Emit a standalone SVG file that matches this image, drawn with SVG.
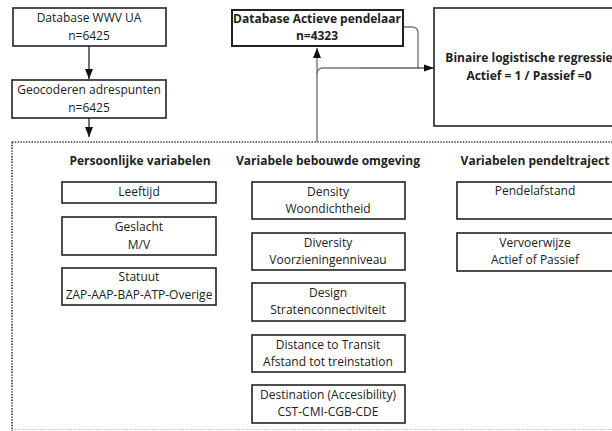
<svg xmlns="http://www.w3.org/2000/svg" width="612" height="431" viewBox="0 0 612 431">
  <style>
    .box { fill: #fff; stroke: #222; stroke-width: 1.6; }
    .bold-box { fill: #fff; stroke: #222; stroke-width: 2; }
    text { font-family: "Open Sans", "Noto Sans", "DejaVu Sans", sans-serif; font-size: 12px; fill: #222; text-anchor: middle; }
    .b { font-weight: bold; }
    .h { font-weight: bold; font-size: 12px; }
    .dots { fill: none; stroke: #333; stroke-width: 1.6; stroke-dasharray: 1.4 1.4; }
    .edge { fill: none; stroke: #111; stroke-width: 1.2; }
    .edge-g { fill: none; stroke: #777; stroke-width: 1.4; }
  </style>
  <defs>
    <marker id="arr" viewBox="0 0 10 10" refX="10" refY="5" markerWidth="10" markerHeight="10" markerUnits="userSpaceOnUse" orient="auto">
      <path d="M0,1 L10,5 L0,9 z" fill="#111"/>
    </marker>
    <marker id="arrL" viewBox="0 0 10 10" refX="10" refY="5" markerWidth="12" markerHeight="10" markerUnits="userSpaceOnUse" orient="auto">
      <path d="M0,1.5 L10,5 L0,8.5 z" fill="#111"/>
    </marker>
  </defs>

  <rect width="612" height="431" fill="#fff"/>

  <!-- dotted frame around the variable groups -->
  <path class="dots" d="M12,142 H612 M12,142 V431"/>
  <path d="M12,429.5 H612" fill="none" stroke="#bbb" stroke-width="1.2" stroke-dasharray="1.4 1.4"/>

  <g id="connectors">
    <path class="edge" d="M89,46 V79" marker-end="url(#arr)"/>
    <path class="edge" d="M89,118 V137" marker-end="url(#arr)"/>
    <path class="edge-g" d="M317,142 V48" marker-end="url(#arr)"/>
    <path class="edge-g" d="M317,74 Q317,68 323,68 H360"/>
    <path class="edge-g" d="M403,27 H412 Q418,27 418,33 V68"/>
    <path class="edge" d="M360,68 H434" marker-end="url(#arrL)"/>
  </g>

  <g id="db-wwv">
    <rect class="box" x="13" y="8" width="153" height="38"/>
    <text x="89" y="22">Database WWV UA</text>
    <text x="89" y="40">n=6425</text>
  </g>

  <g id="geocoderen">
    <rect class="box" x="12" y="80" width="154" height="38"/>
    <text x="89" y="94">Geocoderen adrespunten</text>
    <text x="89" y="112">n=6425</text>
  </g>

  <g id="db-actief">
    <rect class="bold-box" x="232" y="10" width="171" height="36"/>
    <text class="b" x="317" y="23">Database Actieve pendelaar</text>
    <text class="b" x="317" y="40">n=4323</text>
  </g>

  <g id="regressie">
    <rect class="box" x="434" y="8" width="190" height="118"/>
    <text class="b" x="529" y="62">Binaire logistische regressie</text>
    <text class="b" x="529" y="80">Actief = 1 / Passief =0</text>
  </g>

  <g id="heading-persoonlijk">
    <text class="h" x="140" y="165">Persoonlijke variabelen</text>
  </g>
  <g id="heading-bebouwd">
    <text class="h" x="328" y="165">Variabele bebouwde omgeving</text>
  </g>
  <g id="heading-pendel">
    <text class="h" x="535" y="165">Variabelen pendeltraject</text>
  </g>

  <g id="leeftijd">
    <rect class="box" x="62" y="182" width="154" height="21"/>
    <text x="139" y="196">Leeftijd</text>
  </g>
  <g id="geslacht">
    <rect class="box" x="62" y="217" width="154" height="38"/>
    <text x="139" y="231">Geslacht</text>
    <text x="139" y="249">M/V</text>
  </g>
  <g id="statuut">
    <rect class="box" x="62" y="268" width="154" height="37"/>
    <text x="139" y="281">Statuut</text>
    <text x="139" y="299">ZAP-AAP-BAP-ATP-Overige</text>
  </g>

  <g id="density">
    <rect class="box" x="252" y="182" width="153" height="37"/>
    <text x="328" y="196">Density</text>
    <text x="328" y="213">Woondichtheid</text>
  </g>
  <g id="diversity">
    <rect class="box" x="252" y="233" width="153" height="37"/>
    <text x="328" y="247">Diversity</text>
    <text x="328" y="264">Voorzieningenniveau</text>
  </g>
  <g id="design">
    <rect class="box" x="252" y="283" width="153" height="38"/>
    <text x="328" y="297">Design</text>
    <text x="328" y="314">Stratenconnectiviteit</text>
  </g>
  <g id="transit">
    <rect class="box" x="252" y="335" width="153" height="37"/>
    <text x="328" y="349">Distance to Transit</text>
    <text x="328" y="366">Afstand tot treinstation</text>
  </g>
  <g id="destination">
    <rect class="box" x="252" y="385" width="153" height="38"/>
    <text x="328" y="399">Destination (Accesibility)</text>
    <text x="328" y="416">CST-CMI-CGB-CDE</text>
  </g>

  <g id="pendelafstand">
    <rect class="box" x="457" y="182" width="160" height="37"/>
    <text x="535" y="195">Pendelafstand</text>
  </g>
  <g id="vervoerwijze">
    <rect class="box" x="457" y="233" width="160" height="38"/>
    <text x="535" y="247">Vervoerwijze</text>
    <text x="535" y="264">Actief of Passief</text>
  </g>
</svg>
